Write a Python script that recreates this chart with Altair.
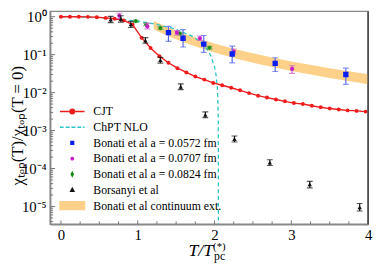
import altair as alt
import pandas as pd

# ---------------- data ----------------
cjt_T = [0.0, 0.117, 0.233, 0.35, 0.467, 0.583, 0.70, 0.817, 0.933, 1.05, 1.167, 1.283,
         1.40, 1.517, 1.633, 1.75, 1.867, 1.983, 2.10, 2.217, 2.333, 2.45, 2.567, 2.683,
         2.80, 2.917, 3.033, 3.15, 3.267, 3.383, 3.50, 3.617, 3.733, 3.85, 3.967]
cjt_v = [1.0, 1.0, 1.0, 0.99, 0.97, 0.93, 0.88, 0.80, 0.62, 0.28, 0.15, 0.091,
         0.061, 0.044, 0.034, 0.0265, 0.022, 0.018, 0.0156, 0.0134, 0.0115, 0.0097, 0.0083, 0.0074,
         0.0066, 0.0059, 0.0053, 0.0050, 0.0045, 0.0041, 0.0038, 0.0036, 0.0034, 0.0033, 0.00316]

chpt_T = [0.0, 0.25, 0.5, 0.75, 1.0, 1.25, 1.5, 1.7, 1.8, 1.9, 1.95, 2.0, 2.02, 2.035,
          2.042, 2.046, 2.048, 2.049, 2.0498, 2.05]
chpt_v = [1.0, 0.985, 0.941, 0.866, 0.762, 0.628, 0.465, 0.312, 0.229, 0.141, 0.095, 0.048,
          0.029, 0.0146, 0.0078, 0.0039, 0.00195, 0.00098, 0.0002, 1e-7]

band_T = [1.21, 1.4, 1.6, 1.8, 2.0, 2.3, 2.6, 3.0, 3.5, 4.0]
band_lo = [0.457, 0.306, 0.211, 0.153, 0.114, 0.077, 0.055, 0.037, 0.0242, 0.0167]
band_hi = [0.766, 0.518, 0.360, 0.263, 0.197, 0.135, 0.0973, 0.0661, 0.0436, 0.0304]

b1_T = [1.40, 1.59, 1.86, 2.23, 2.79, 3.71]
b1_v = [0.38, 0.27, 0.19, 0.104, 0.059, 0.030]
b1_lo = [0.223, 0.159, 0.115, 0.061, 0.036, 0.0165]
b1_hi = [0.556, 0.458, 0.32, 0.168, 0.083, 0.044]

b2_T = [0.76, 1.125, 1.51, 1.81, 2.25, 3.01]
b2_v = [1.06, 0.556, 0.38, 0.27, 0.121, 0.042]
b2_lo = [0.89, 0.48, 0.33, 0.236, 0.104, 0.032]
b2_hi = [1.23, 0.67, 0.43, 0.31, 0.141, 0.051]

b3_T = [0.975, 1.11, 1.295, 1.55, 1.934]
b3_v = [0.765, 0.63, 0.50, 0.36, 0.152]
b3_lo = [0.71, 0.58, 0.46, 0.33, 0.14]
b3_hi = [0.82, 0.68, 0.54, 0.39, 0.165]

bo_T = [0.648, 0.78, 0.91, 1.10, 1.295, 1.56, 1.88, 2.26, 2.72, 3.24, 3.89]
bo_v = [0.84, 0.88, 0.63, 0.236, 0.0714, 0.0142, 0.0026, 6.0e-4, 1.43e-4, 3.8e-5, 9.5e-6]
bo_lo = [0.70, 0.72, 0.52, 0.20, 0.060, 0.012, 0.0022, 5.0e-4, 1.2e-4, 3.1e-5, 7.6e-6]
bo_hi = [1.02, 1.06, 0.75, 0.28, 0.085, 0.017, 0.0031, 7.2e-4, 1.7e-4, 4.6e-5, 1.2e-5]

series = ["CJT", "ChPT NLO", "Bonati et al a = 0.0572 fm", "Bonati et al a = 0.0707 fm",
          "Bonati et al a = 0.0824 fm", "Borsanyi et al", "Bonati et al continuum ext."]
series_colors = ["#ee1c1c", "#26c6c9", "#0a1ef0", "#c81ec8", "#1a8c1a", "#111111", "#fdd18a"]
series_shapes = [
    "M-1.56,0H1.56M-0.28,0A0.28,0.28 0 1,0 0.28,0A0.28,0.28 0 1,0 -0.28,0Z",
    "M-1.56,0H-1.1M-0.85,0H-0.35M-0.1,0H0.4M0.65,0H1.15M1.35,0H1.56",
    "M-0.17,-0.17H0.17V0.17H-0.17Z",
    "M-0.15,0A0.15,0.15 0 1,0 0.15,0A0.15,0.15 0 1,0 -0.15,0Z",
    "M0,-0.25L0.13,0L0,0.25L-0.13,0Z",
    "M0,-0.22L0.2,0.16H-0.2Z",
    "M-1.56,-0.5H1.56V0.5H-1.56Z",
]

x_ticks_major = [0, 1, 2, 3, 4]
x_ticks_minor = [0.25, 0.5, 0.75, 1.25, 1.5, 1.75, 2.25, 2.5, 2.75, 3.25, 3.5, 3.75]
y_ticks_major = [1, 0.1, 0.01, 0.001, 1e-4, 1e-5]
y_ticks_minor = [m * 10.0 ** e for e in range(-6, 0) for m in range(2, 10)
                 if 10 ** -5.47 < m * 10.0 ** e < 1.37]

W, H = 324, 217
FONT = "Liberation Serif"

xscale = alt.Scale(domain=[-0.14, 4.0], nice=False, zero=False)
yscale = alt.Scale(type="log", domain=[10 ** -5.47, 10 ** 0.14], nice=False)

xaxis = alt.Axis(values=x_ticks_major, format="d", title=None, ticks=False, grid=False,
                 labelFont=FONT, labelFontSize=15, labelPadding=3, labelColor="black",
                 domainColor="#888888", domainWidth=1.5, labelFlush=False)
ylabel = ("datum.value > 0.5 ? '10⁰' : datum.value > 0.05 ? '10⁻¹' : datum.value > 0.005 ? '10⁻²'"
          " : datum.value > 0.0005 ? '10⁻³' : datum.value > 0.00005 ? '10⁻⁴' : '10⁻⁵'")
yaxis = alt.Axis(values=y_ticks_major, labelExpr=ylabel, ticks=False, grid=False,
                 title="χₜₒₚ(T)/χₜₒₚ(T = 0)", titleFont=FONT, titleFontSize=17,
                 titleFontWeight="normal", titleColor="black", titleAngle=270,
                 titleX=-33, titleY=116, titleAlign="center", titleBaseline="middle",
                 labelFont=FONT, labelFontSize=15, labelPadding=4, labelColor="black",
                 domainColor="#888888", domainWidth=1.5, labelFlush=False)


def X(f):
    return alt.X(f, type="quantitative", scale=xscale, axis=xaxis)


def Y(f):
    return alt.Y(f, type="quantitative", scale=yscale, axis=yaxis)


cjt = pd.DataFrame({"T": cjt_T, "v": cjt_v})
chpt = pd.DataFrame({"T": chpt_T, "v": chpt_v})
band = pd.DataFrame({"T": band_T, "lo": band_lo, "hi": band_hi})


def lattice(Ts, vs, los, his):
    return pd.DataFrame({"T": Ts, "v": vs, "lo": los, "hi": his})


layers = []
layers.append(alt.Chart(band).mark_area(color="#fdd18a", opacity=1, clip=True).encode(
    x=X("T"), y=Y("lo"), y2="hi"))
layers.append(alt.Chart(chpt).mark_line(color="#26c6c9", strokeDash=[4, 3], strokeWidth=1.3,
                                         clip=True).encode(x=X("T"), y=Y("v")))
layers.append(alt.Chart(cjt).mark_line(color="#ee1c1c", strokeWidth=1.4, clip=True).encode(
    x=X("T"), y=Y("v")))
layers.append(alt.Chart(cjt).mark_circle(color="#ee1c1c", size=16, opacity=1, clip=True).encode(
    x=X("T"), y=Y("v")))

lat_specs = [
    (lattice(b3_T, b3_v, b3_lo, b3_hi), "#1a8c1a", "#3a9c3a", "diamond", 22),
    (lattice(b2_T, b2_v, b2_lo, b2_hi), "#c81ec8", "#d060d0", "circle", 18),
    (lattice(b1_T, b1_v, b1_lo, b1_hi), "#0a1ef0", "#5566ee", "square", 30),
    (lattice(bo_T, bo_v, bo_lo, bo_hi), "#111111", "#111111", "triangle-up", 20),
]
for df, col, barcol, shp, sz in lat_specs:
    base = alt.Chart(df)
    layers.append(base.mark_rule(color=barcol, strokeWidth=1.2, clip=True).encode(
        x=X("T"), y=Y("lo"), y2="hi"))
    layers.append(base.mark_tick(color=barcol, orient="horizontal", size=6, thickness=1.2,
                                 clip=True).encode(x=X("T"), y=Y("lo")))
    layers.append(base.mark_tick(color=barcol, orient="horizontal", size=6, thickness=1.2,
                                 clip=True).encode(x=X("T"), y=Y("hi")))
    layers.append(base.mark_point(color=col, shape=shp, size=sz, filled=True, opacity=1,
                                  clip=True).encode(x=X("T"), y=Y("v")))

# tick marks (inward)
layers.append(alt.Chart(pd.DataFrame({"T": x_ticks_major})).mark_rule(
    color="#777777", strokeWidth=1).encode(x=X("T"), y=alt.value(H), y2=alt.value(H - 4)))
layers.append(alt.Chart(pd.DataFrame({"T": x_ticks_minor})).mark_rule(
    color="#777777", strokeWidth=1).encode(x=X("T"), y=alt.value(H), y2=alt.value(H - 3)))
layers.append(alt.Chart(pd.DataFrame({"v": y_ticks_major})).mark_rule(
    color="#777777", strokeWidth=1).encode(y=Y("v"), x=alt.value(0), x2=alt.value(5)))
layers.append(alt.Chart(pd.DataFrame({"v": y_ticks_minor})).mark_rule(
    color="#777777", strokeWidth=1).encode(y=Y("v"), x=alt.value(0), x2=alt.value(3)))

# right frame edge
layers.append(alt.Chart(pd.DataFrame({"T": [4.0]})).mark_rule(
    color="#444444", strokeWidth=1.5).encode(x=X("T"), y=alt.value(0), y2=alt.value(H)))

# legend (driven by a legend-only layer outside the plotted range)
leg = alt.Legend(orient="none", legendX=13.5, legendY=93, title=None, symbolSize=256,
                 labelOffset=12.5, labelFont=FONT, labelFontSize=12, labelColor="black",
                 rowPadding=1, padding=0, symbolStrokeWidth=1.5, symbolOpacity=1)
legdf = pd.DataFrame({"series": series, "T": [-1.0] * 7, "v": [1.0] * 7})
layers.append(alt.Chart(legdf).mark_point(filled=True, opacity=1, clip=True).encode(
    x=X("T"), y=Y("v"),
    fill=alt.Fill("series:N", sort=series, scale=alt.Scale(domain=series, range=series_colors), legend=leg),
    stroke=alt.Stroke("series:N", sort=series, scale=alt.Scale(domain=series, range=series_colors), legend=leg),
    shape=alt.Shape("series:N", sort=series, scale=alt.Scale(domain=series, range=series_shapes), legend=leg),
))

# x-axis title pieces
one = pd.DataFrame({"a": [0]})
layers.append(alt.Chart(one).mark_text(text="T/T", font=FONT, fontSize=18, fontStyle="italic",
                                       align="right", baseline="alphabetic", color="black").encode(
    x=alt.value(166), y=alt.value(249)))
layers.append(alt.Chart(one).mark_text(text="(*)", font=FONT, fontSize=11,
                                       align="left", baseline="alphabetic", color="black").encode(
    x=alt.value(166), y=alt.value(243)))
layers.append(alt.Chart(one).mark_text(text="pc", font=FONT, fontSize=12,
                                       align="left", baseline="alphabetic", color="black").encode(
    x=alt.value(167), y=alt.value(253)))

chart = alt.layer(*layers).properties(
    width=W, height=H,
    autosize=alt.AutoSizeParams(type="none"),
    padding={"left": 43, "top": 1, "right": 6, "bottom": 38},
).configure_view(stroke="#888888", strokeWidth=1.5)

chart.save("out.html", embed_options={"renderer": "svg", "actions": False})
